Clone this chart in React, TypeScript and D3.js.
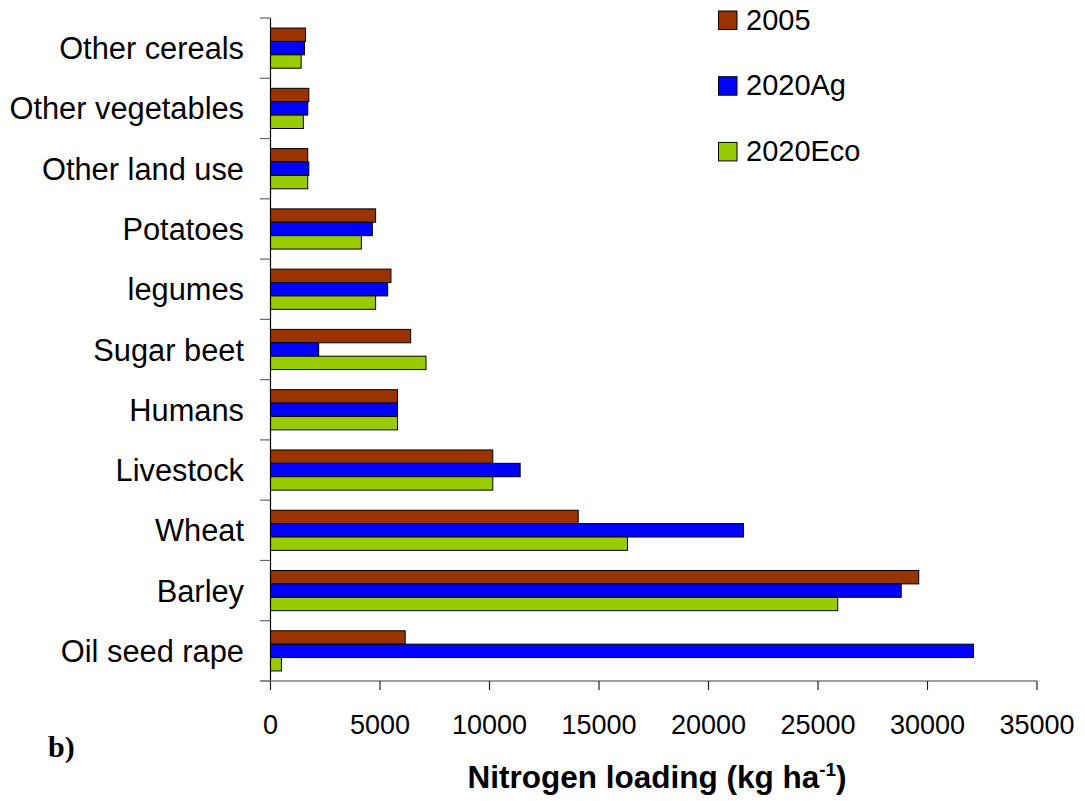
import React from "react";
import * as d3 from "d3";

const categories = [
  "Other cereals",
  "Other vegetables",
  "Other land use",
  "Potatoes",
  "legumes",
  "Sugar beet",
  "Humans",
  "Livestock",
  "Wheat",
  "Barley",
  "Oil seed rape",
];
const seriesNames = ["2005", "2020Ag", "2020Eco"];
const v2005 = [1600, 1750, 1700, 4800, 5500, 6400, 5800, 10150, 14050, 29600, 6150];
const v2020Ag = [1550, 1700, 1750, 4650, 5350, 2200, 5800, 11400, 21600, 28800, 32100];
const v2020Eco = [1400, 1500, 1700, 4150, 4800, 7100, 5800, 10150, 16300, 25900, 500];
const xTicks = [0, 5000, 10000, 15000, 20000, 25000, 30000, 35000];
const colors = ["#993300", "#0000FF", "#99CC00"];

const W = 1085;
const H = 801;

export default function App() {
  const x = d3.scaleLinear().domain([0, 35000]).range([270.5, 1037]);
  const y = d3
    .scaleBand<string>()
    .domain(categories)
    .range([18, 681])
    .paddingInner(1 / 3)
    .paddingOuter(1 / 6);
  const ySub = d3.scaleBand<string>().domain(seriesNames).range([0, y.bandwidth()]);
  const seriesValues = [v2005, v2020Ag, v2020Eco];
  const step = y.step();
  const boundaries = d3.range(categories.length + 1).map((i) => 18 + i * step);

  const font = "'Liberation Sans', Arial, sans-serif";

  return (
    <svg
      width={W}
      height={H}
      style={{ position: "absolute", left: 0, top: 0, background: "#fff" }}
      fontFamily={font}
    >
      <rect x={0} y={0} width={W} height={H} fill="#fff" />
      {/* bars */}
      {categories.map((c, i) => (
        <g key={c}>
          {seriesNames.map((s, j) => (
            <rect
              key={s}
              x={x(0)}
              y={(y(c) as number) + (ySub(s) as number)}
              width={x(seriesValues[j][i]) - x(0)}
              height={ySub.bandwidth()}
              fill={colors[j]}
              stroke="#000"
              strokeWidth={1}
            />
          ))}
        </g>
      ))}
      {/* y axis */}
      <line x1={270.5} x2={270.5} y1={18} y2={681} stroke="#000" strokeWidth={1.2} />
      {boundaries.map((b, i) => (
        <line key={i} x1={260} x2={270.5} y1={b} y2={b} stroke="#666" strokeWidth={1.2} />
      ))}
      {categories.map((c) => (
        <text
          key={c}
          x={244}
          y={(y(c) as number) + y.bandwidth() / 2}
          dy="0.36em"
          textAnchor="end"
          fontSize={30.8}
          fill="#000"
        >
          {c}
        </text>
      ))}
      {/* x axis */}
      <line x1={260} x2={x(35000)} y1={681} y2={681} stroke="#808080" strokeWidth={1.5} />
      {xTicks.map((t) => (
        <g key={t}>
          <line x1={x(t)} x2={x(t)} y1={681} y2={690} stroke="#222" strokeWidth={1.2} />
          <text x={x(t)} y={734} textAnchor="middle" fontSize={27} fill="#000">
            {t}
          </text>
        </g>
      ))}
      <text x={657} y={788} textAnchor="middle" fontSize={31.5} fontWeight="bold" fill="#000">
        Nitrogen loading (kg ha
        <tspan fontSize={19} dy={-12}>-1</tspan>
        <tspan dy={12}>)</tspan>
      </text>
      <text
        x={48}
        y={757}
        fontSize={30}
        fontWeight="bold"
        fontFamily="'Liberation Serif', 'Times New Roman', serif"
        fill="#000"
      >
        b)
      </text>
      {/* legend */}
      {seriesNames.map((s, j) => (
        <g key={s} transform={`translate(718.5, ${11 + j * 65.7})`}>
          <rect x={0} y={0} width={18.5} height={18.5} fill={colors[j]} stroke="#000" strokeWidth={1} />
          <text x={27.5} y={18.5} fontSize={29} fill="#000">
            {s}
          </text>
        </g>
      ))}
    </svg>
  );
}
